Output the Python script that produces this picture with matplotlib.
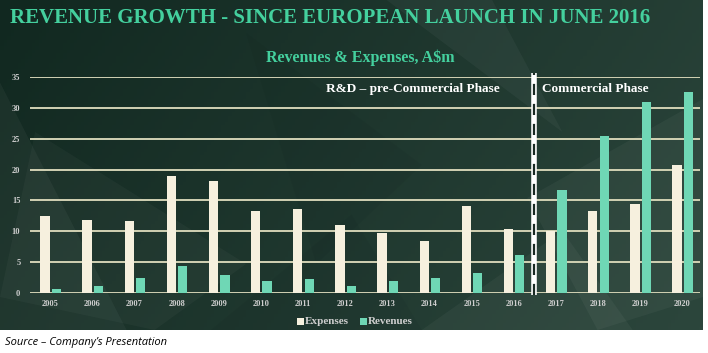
import matplotlib
matplotlib.use("Agg")
import matplotlib.pyplot as plt
import numpy as np
from matplotlib.patches import Polygon, Rectangle

years = ["2005", "2006", "2007", "2008", "2009", "2010", "2011", "2012",
         "2013", "2014", "2015", "2016", "2017", "2018", "2019", "2020"]
expenses = [12.5, 11.9, 11.7, 18.9, 18.2, 13.3, 13.6, 11.0,
            9.7, 8.5, 14.1, 10.4, 10.0, 13.3, 14.4, 20.7]
revenues = [0.6, 1.2, 2.5, 4.4, 2.9, 1.9, 2.3, 1.2,
            2.0, 2.5, 3.3, 6.2, 16.7, 25.5, 31.0, 32.5]
yticks = [0, 5, 10, 15, 20, 25, 30, 35]

title = "REVENUE GROWTH - SINCE EUROPEAN LAUNCH IN JUNE 2016"
subtitle = "Revenues & Expenses, A$m"
phase1 = "R&D \u2013 pre-Commercial Phase"
phase2 = "Commercial Phase"
source = "Source \u2013 Company\u2019s Presentation"

W, H = 708, 353
fig = plt.figure(figsize=(W / 100, H / 100), dpi=100)
fig.patch.set_facecolor("white")

# background panel
bg = fig.add_axes([0, 23 / H, 703 / W, 330 / H])
bg.set_xlim(0, 1)
bg.set_ylim(0, 1)
bg.axis("off")
gx = np.linspace(0, 1, 200)
gy = np.linspace(0, 1, 100)
X, Y = np.meshgrid(gx, gy)
c0 = np.array([0x11, 0x28, 0x20]) / 255
c1 = np.array([0x2c, 0x46, 0x3c]) / 255
t = np.clip(0.75 * X + 0.25 * (1 - Y), 0, 1)[..., None]
img = c0 * (1 - t) + c1 * t
bg.imshow(img, extent=[0, 1, 0, 1], origin="lower", aspect="auto", zorder=0)
facets = [
    ([(0.0, 0.75), (0.18, 0.0), (0.0, 0.0)], 0.04, "white"),
    ([(0.05, 0.6), (0.35, 0.2), (0.22, 0.0), (0.0, 0.1)], 0.03, "white"),
    ([(0.35, 0.9), (0.6, 0.5), (0.45, 0.2)], 0.04, "black"),
    ([(0.55, 1.0), (0.8, 0.6), (0.7, 1.0)], 0.04, "white"),
    ([(0.75, 0.4), (1.0, 0.7), (1.0, 0.1), (0.85, 0.0)], 0.04, "white"),
    ([(0.6, 0.0), (0.8, 0.3), (0.9, 0.0)], 0.04, "white"),
    ([(0.3, 0.0), (0.5, 0.35), (0.6, 0.0)], 0.04, "black"),
]
for pts, a, col in facets:
    bg.add_patch(Polygon(pts, closed=True, facecolor=col, alpha=a,
                         edgecolor="none", zorder=1))

# main axes
ax = fig.add_axes([30 / W, 60 / H, 670 / W, 216 / H])
ax.set_facecolor("none")
x = np.arange(len(years))
bw = 0.22
ax.bar(x - 0.125, expenses, width=bw, color="#f6f0de", zorder=3)
ax.bar(x + 0.145, revenues, width=bw, color="#6fd7b5", zorder=3)
ax.set_xlim(-0.48, 15.42)
ax.set_ylim(0, 35)
ax.set_yticks(yticks)
ax.set_xticks(x)
ax.set_xticklabels(years)
for s in ax.spines.values():
    s.set_visible(False)
ax.grid(axis="y", color="#d2d2b4", linewidth=1.4, zorder=1)
ax.tick_params(axis="both", length=0, colors="#cfcfcf", labelsize=6)
ax.tick_params(axis="y", pad=7)
ax.tick_params(axis="x", pad=5)
for lab in ax.get_xticklabels() + ax.get_yticklabels():
    lab.set_fontfamily("Liberation Serif")
    lab.set_fontweight("bold")

# phase divider
xd = 11.47
ax.plot([xd, xd], [-0.3, 35.7], color="white", linewidth=4, zorder=5,
        clip_on=False, solid_capstyle="butt")
ax.plot([xd, xd], [-0.3, 35.7], color="#1a2a24", linewidth=1.6, zorder=6,
        clip_on=False, linestyle=(0, (5, 4)))

ax.text(10.66, 33.0, phase1, ha="right", va="center", color="white",
        fontsize=9.5, fontweight="bold", family="Liberation Serif", zorder=7)
ax.text(11.68, 33.0, phase2, ha="left", va="center", color="white",
        fontsize=9.5, fontweight="bold", family="Liberation Serif", zorder=7)

# titles
fig.text(10 / W, 1 - 18 / H, title, ha="left", va="center", color="#44d09e",
         fontsize=15, fontweight="bold", family="Liberation Serif")
fig.text(360 / W, 1 - 58 / H, subtitle, ha="center", va="center", color="#44d09e",
         fontsize=11.5, fontweight="bold", family="Liberation Serif")

# legend
ly = 1 - 321 / H
fig.patches.append(Rectangle((297 / W, ly - 4 / H), 7 / W, 7 / H,
                             transform=fig.transFigure, facecolor="#f6f0de",
                             edgecolor="none"))
fig.text(305 / W, ly, "Expenses", ha="left", va="center", color="#cfcfcf",
         fontsize=8, fontweight="bold", family="Liberation Serif")
fig.patches.append(Rectangle((360 / W, ly - 4 / H), 7 / W, 7 / H,
                             transform=fig.transFigure, facecolor="#6fd7b5",
                             edgecolor="none"))
fig.text(368 / W, ly, "Revenues", ha="left", va="center", color="#cfcfcf",
         fontsize=8, fontweight="bold", family="Liberation Serif")

fig.text(5 / W, 1 - 342 / H, source, ha="left", va="center", color="black",
         fontsize=8, style="italic", family="Open Sans")

fig.savefig("out.png", dpi=100, facecolor=fig.get_facecolor())
